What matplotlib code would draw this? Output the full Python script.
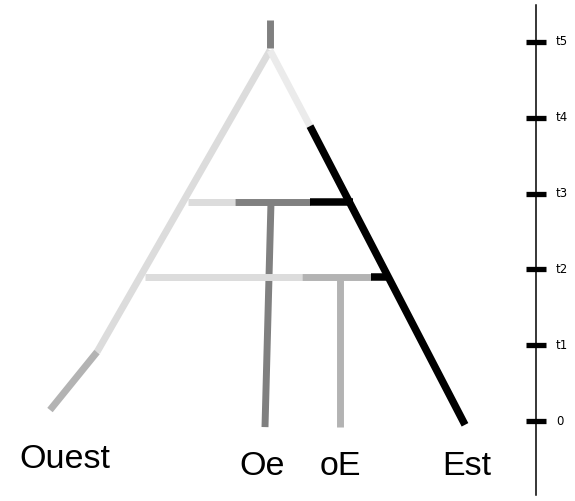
import matplotlib
matplotlib.use("Agg")
import matplotlib.pyplot as plt

# time axis (right side)
TICK_T = [0, 1, 2, 3, 4, 5]
TICK_LABELS = ["0", "t1", "t2", "t3", "t4", "t5"]
AXIS_X = 536
AXIS_SPAN = (-0.98, 5.49)

# tree edges: x in px-like units, t in time units
EDGE_X0 = [270, 270, 97, 270, 310, 188, 235, 310, 271, 145, 302, 371, 340]
EDGE_T0 = [5.29, 4.89, 0.91, 4.89, 3.89, 2.89, 2.89, 2.89, 2.89, 1.90, 1.90, 1.90, 1.90]
EDGE_X1 = [270, 97, 50, 310, 465, 235, 310, 353, 265, 302, 371, 386, 340]
EDGE_T1 = [4.92, 0.91, 0.145, 3.89, -0.05, 2.89, 2.89, 2.89, -0.08, 1.90, 1.90, 1.90, -0.08]
EDGE_COLOR = ["#808080", "#dcdcdc", "#b3b3b3", "#ebebeb", "#000000",
              "#dcdcdc", "#808080", "#000000", "#808080",
              "#dcdcdc", "#b3b3b3", "#000000", "#b3b3b3"]

# leaf names
LEAF_NAMES = ["Ouest", "Oe", "oE", "Est"]
LEAF_X = [65, 262, 340, 467]
LEAF_T = [-0.51, -0.60, -0.60, -0.60]

fig = plt.figure(figsize=(5.75, 5.01), dpi=100)
ax = fig.add_axes([0, 0, 1, 1])
ax.set_xlim(0, 575)
ax.set_ylim(-1.055, 5.554)
ax.axis("off")

for x0, t0, x1, t1, c in zip(EDGE_X0, EDGE_T0, EDGE_X1, EDGE_T1, EDGE_COLOR):
    lw = 5.4 if c == "#000000" else 5.0
    ax.plot([x0, x1], [t0, t1], color=c, lw=lw, solid_capstyle="butt")

for name, x, t in zip(LEAF_NAMES, LEAF_X, LEAF_T):
    ax.text(x, t, name, ha="center", va="center", fontsize=24.5,
            family="Liberation Sans")

# time axis
ax.plot([AXIS_X, AXIS_X], AXIS_SPAN, color="black", lw=1.1)
for t, lab in zip(TICK_T, TICK_LABELS):
    ax.plot([AXIS_X - 10, AXIS_X + 10], [t, t], color="black", lw=3.8,
            solid_capstyle="butt")
    ax.text(AXIS_X + 20, t, lab, ha="left", va="center", fontsize=8.5,
            family="DejaVu Sans")

fig.savefig("out.png", dpi=100)
